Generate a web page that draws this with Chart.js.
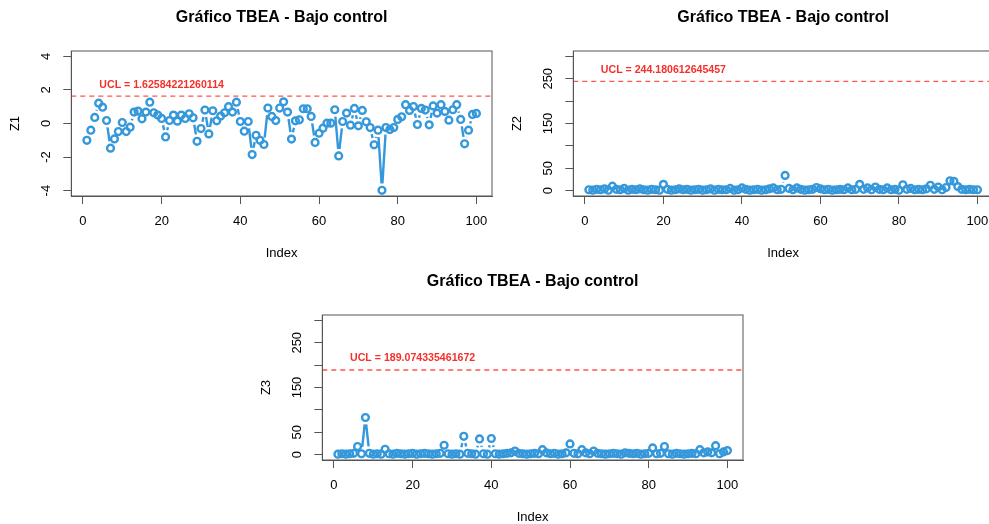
<!DOCTYPE html>
<html>
<head>
<meta charset="utf-8">
<script src="https://cdn.jsdelivr.net/npm/chart.js@4"></script>
<style>
  html, body { margin: 0; padding: 0; background: #fff; overflow: hidden; }
  .panel { position: absolute; width: 500px; height: 264px; }
  #p1 { left: 0; top: 0; }
  #p2 { left: 502px; top: 0; }
  #p3 { left: 251.4px; top: 264px; }
</style>
</head>
<body>
<div class="panel" id="p1"><canvas id="c1"></canvas></div>
<div class="panel" id="p2"><canvas id="c2"></canvas></div>
<div class="panel" id="p3"><canvas id="c3"></canvas></div>
<script>
const index = Array.from({ length: 100 }, (_, i) => i + 1);

const z1 = [-1.00, -0.40, 0.36, 1.21, 0.97, 0.18, -1.47, -0.92, -0.48, 0.06,
  -0.48, -0.22, 0.68, 0.74, 0.28, 0.68, 1.27, 0.64, 0.50, 0.30,
  -0.80, 0.18, 0.50, 0.14, 0.50, 0.30, 0.58, 0.34, -1.06, -0.30,
  0.80, -0.62, 0.76, 0.16, 0.44, 0.64, 1.00, 0.68, 1.27, 0.12,
  -0.46, 0.12, -1.85, -0.70, -1.00, -1.25, 0.92, 0.42, 0.18, 0.92,
  1.29, 0.68, -0.93, 0.16, 0.22, 0.88, 0.88, 0.42, -1.13, -0.58,
  -0.28, 0.02, 0.02, 0.82, -1.93, 0.12, 0.62, -0.10, 0.90, -0.14,
  0.78, 0.10, -0.24, -1.27, -0.40, -3.98, -0.24, -0.36, -0.24, 0.24,
  0.40, 1.12, 0.78, 1.01, -0.06, 0.90, 0.80, -0.08, 1.05, 0.62,
  1.12, 0.72, 0.20, 0.82, 1.12, 0.24, -1.21, -0.40, 0.54, 0.60];

const z2 = [2, 1, 3, 2, 4, 1, 10, 3, 2, 5,
  1, 3, 2, 4, 2, 1, 3, 2, 1, 14,
  3, 1, 2, 4, 2, 3, 1, 2, 3, 1,
  2, 4, 1, 3, 2, 2, 5, 1, 2, 6,
  3, 1, 2, 3, 1, 2, 4, 6, 2, 3,
  34, 5, 2, 6, 3, 1, 2, 3, 7, 4,
  2, 3, 1, 2, 3, 2, 6, 2, 3, 14,
  3, 6, 2, 8, 3, 2, 6, 2, 3, 1,
  13, 3, 5, 2, 3, 2, 4, 12, 3, 8,
  2, 7, 22, 21, 9, 3, 2, 3, 2, 2];

const z3 = [1, 2, 1, 2, 3, 18, 2, 83, 3, 1,
  2, 1, 12, 2, 1, 3, 2, 1, 2, 3,
  1, 2, 3, 2, 1, 2, 3, 21, 2, 1,
  2, 1, 41, 3, 2, 1, 35, 2, 1, 36,
  2, 1, 2, 3, 4, 8, 3, 2, 1, 2,
  3, 2, 11, 4, 2, 3, 1, 2, 4, 24,
  3, 2, 11, 4, 2, 8, 3, 2, 1, 2,
  3, 2, 1, 4, 3, 2, 3, 1, 2, 3,
  15, 2, 3, 18, 2, 1, 3, 2, 1, 2,
  3, 2, 11, 4, 6, 4, 20, 2, 6, 9];

const ucl1 = 1.62584221260114;
const ucl2 = 244.180612645457;
const ucl3 = 189.074335461672;

const xTicks = [0, 20, 40, 60, 80, 100];
const z1Ticks = [-4, -2, 0, 2, 4];
const z1TickLabels = ['-4', '-2', '0', '2', '4'];
const zTicks = [0, 50, 100, 150, 200, 250, 300];
const zTickLabels = ['0', '50', '', '150', '', '250', ''];

const titleText = 'Gráfico TBEA - Bajo control';
const blue = '#3498DB';
const frameColor = '#555';

Chart.defaults.font.family = "'Liberation Sans', Arial, Helvetica, sans-serif";
Chart.defaults.color = '#000';

// R-style extras: framed plot box, "type b" connectors with gaps, UCL line + label
const rStyle = {
  id: 'rStyle',
  beforeDatasetsDraw(chart) {
    const pts = chart.getDatasetMeta(0).data;
    const ctx = chart.ctx;
    const gap = 7;
    ctx.save();
    ctx.strokeStyle = blue;
    ctx.lineWidth = 2.4;
    ctx.beginPath();
    for (let i = 0; i < pts.length - 1; i++) {
      const a = pts[i], b = pts[i + 1];
      const dx = b.x - a.x, dy = b.y - a.y;
      const d = Math.hypot(dx, dy);
      if (d <= 2 * gap) continue;
      const f = gap / d;
      ctx.moveTo(a.x + dx * f, a.y + dy * f);
      ctx.lineTo(b.x - dx * f, b.y - dy * f);
    }
    ctx.stroke();
    ctx.restore();
  },
  afterDraw(chart, args, opts) {
    const { ctx, chartArea: area, scales } = chart;
    ctx.save();
    const y = scales.y.getPixelForValue(opts.ucl);
    ctx.strokeStyle = 'rgba(255,55,45,0.85)';
    ctx.lineWidth = 1.3;
    ctx.setLineDash([5, 4]);
    ctx.beginPath();
    ctx.moveTo(area.left, y);
    ctx.lineTo(area.right, y);
    ctx.stroke();
    ctx.setLineDash([]);
    ctx.fillStyle = '#F5302A';
    ctx.font = "bold 10.6px 'Liberation Sans', Arial, sans-serif";
    ctx.textAlign = 'center';
    ctx.textBaseline = 'middle';
    ctx.fillText('UCL = ' + opts.ucl, scales.x.getPixelForValue(20), y - 11.5);
    ctx.strokeStyle = frameColor;
    ctx.lineWidth = 1;
    ctx.strokeRect(area.left, area.top, area.right - area.left, area.bottom - area.top);
    ctx.restore();
  }
};

function makeChart(id, values, ucl, yName, yTicks, yLabels, yMin, yMax, yTickPad, rightPad) {
  return new Chart(document.getElementById(id), {
    type: 'scatter',
    data: {
      datasets: [{
        data: index.map((x, i) => ({ x: x, y: values[i] })),
        showLine: false,
        pointRadius: 3.4,
        pointBorderWidth: 2.4,
        pointBorderColor: blue,
        pointBackgroundColor: 'rgba(0,0,0,0)'
      }]
    },
    options: {
      responsive: true,
      maintainAspectRatio: false,
      animation: false,
      events: [],
      layout: { padding: { left: 0, right: rightPad, top: 0, bottom: 0 } },
      plugins: {
        legend: { display: false },
        tooltip: { enabled: false },
        title: {
          display: true,
          text: titleText,
          fullSize: false,
          font: { size: 16, weight: 'bold' },
          padding: { top: 8.4, bottom: 23.4 }
        },
        rStyle: { ucl: ucl }
      },
      scales: {
        x: {
          type: 'linear',
          position: 'bottom',
          min: -2.96,
          max: 103.96,
          afterBuildTicks: s => { s.ticks = xTicks.map(v => ({ value: v })); },
          afterFit: s => { s.height = 68; },
          ticks: { font: { size: 13 }, padding: 10, autoSkip: false, maxRotation: 0, callback: v => String(v) },
          grid: { drawOnChartArea: false, drawTicks: true, tickLength: 8, color: frameColor },
          border: { display: true, color: frameColor },
          title: { display: true, text: 'Index', font: { size: 13 }, padding: { top: 0, bottom: 2.9 } }
        },
        y: {
          type: 'linear',
          min: yMin,
          max: yMax,
          afterBuildTicks: s => { s.ticks = yTicks.map(v => ({ value: v })); },
          afterFit: s => { s.width = 71.3; },
          ticks: {
            font: { size: 13 },
            autoSkip: false,
            minRotation: 90,
            maxRotation: 90,
            crossAlign: 'center',
            padding: yTickPad,
            callback: (v, i) => yLabels[i]
          },
          grid: { drawOnChartArea: false, drawTicks: true, tickLength: 8, color: frameColor },
          border: { display: true, color: frameColor },
          title: { display: true, text: yName, font: { size: 13 }, padding: { top: 7.2, bottom: 0 } }
        }
      }
    },
    plugins: [rStyle]
  });
}

makeChart('c1', z1, ucl1, 'Z1', z1Ticks, z1TickLabels, -4.32, 4.32, 11.5, 8);
makeChart('c2', z2, ucl2, 'Z2', zTicks, zTickLabels, -12, 312, 6.5, 9);
makeChart('c3', z3, ucl3, 'Z3', zTicks, zTickLabels, -12, 312, 6.5, 8);
</script>
</body>
</html>
